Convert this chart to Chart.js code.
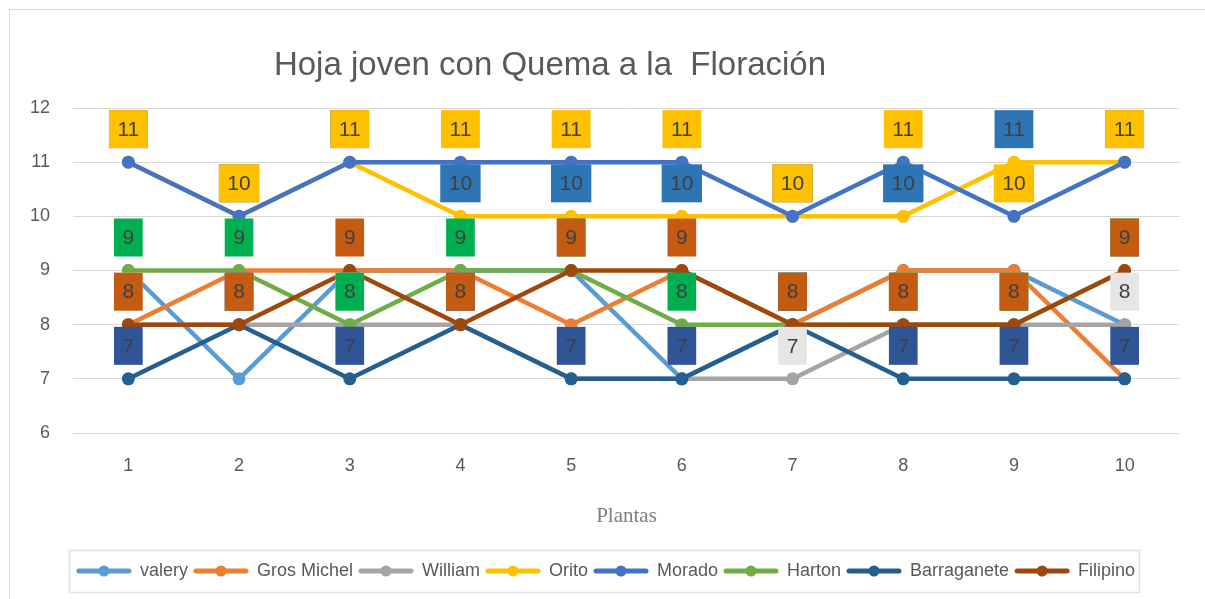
<!DOCTYPE html>
<html><head><meta charset="utf-8">
<script src="https://cdn.jsdelivr.net/npm/chart.js@4.4.1/dist/chart.umd.min.js"></script>
<style>
html,body{margin:0;padding:0;background:#fff;}
#wrap{position:relative;width:1205px;height:599px;overflow:hidden;background:#fff;}
#frame{position:absolute;left:9px;top:9px;width:1300px;height:700px;border:1px solid #D9D9D9;}
#title{position:absolute;left:0;width:1100px;top:45px;text-align:center;font:33px 'Liberation Sans',Arial,sans-serif;color:#595959;white-space:pre;}
canvas{position:absolute;left:0;top:0;}
</style></head><body>
<div id="wrap"><div id="frame"></div><canvas id="c" width="1205" height="599"></canvas><div id="title">Hoja joven con Quema a la  Floración</div></div>
<script>
// ---- data ----
const categories = ['1','2','3','4','5','6','7','8','9','10'];
const seriesNames = ['valery','Gros Michel','William','Orito','Morado','Harton','Barraganete','Filipino'];
const valery      = [9,7,9,9,9,7,8,9,9,8];
const grosMichel  = [8,9,9,9,8,9,8,9,9,7];
const william     = [8,8,8,8,7,7,7,8,8,8];
const orito       = [11,10,11,10,10,10,10,10,11,11];
const morado      = [11,10,11,11,11,11,10,11,10,11];
const harton      = [9,9,8,9,9,8,8,8,8,9];
const barraganete = [7,8,7,8,7,7,8,7,7,7];
const filipino    = [8,8,9,8,9,9,8,8,8,9];
const yMin = 6, yMax = 12, yStep = 1;
const xTitle = 'Plantas';

// ---- styles ----
const lineColors  = ['#5B9BD5','#ED7D31','#A5A5A5','#FFC000','#4472C4','#70AD47','#255E91','#9E480E'];
const labelFills  = [null,null,'#E7E6E6','#2E75B6','#FFC000','#00B050','#2F5597','#C55A11'];
const seriesData  = [valery,grosMichel,william,orito,morado,harton,barraganete,filipino];

function legendImg(color){
  const c=document.createElement('canvas'); c.width=56; c.height=14;
  const g=c.getContext('2d');
  g.strokeStyle=color; g.lineWidth=5; g.lineCap='round';
  g.beginPath(); g.moveTo(3,7); g.lineTo(53,7); g.stroke();
  g.fillStyle=color; g.beginPath(); g.arc(28,7,5.5,0,Math.PI*2); g.fill();
  return c;
}
const legendImgs = lineColors.map(legendImg);

const datasets = seriesNames.map((n,i)=>({
  label:n, data:seriesData[i], borderColor:lineColors[i], backgroundColor:lineColors[i],
  borderWidth:4.5, pointRadius:6.5, pointHoverRadius:6.5, pointBorderWidth:0,
  pointBackgroundColor:lineColors[i], tension:0, fill:false, order:seriesNames.length-1-i,
  labelFill:labelFills[i]
}));

const labelPlugin = {
  id:'boxLabels',
  afterDatasetsDraw(chart){
    const ctx=chart.ctx, xs=chart.scales.x, ys=chart.scales.y;
    ctx.save();
    ctx.font='21px "Liberation Sans", Arial, sans-serif';
    ctx.textAlign='center'; ctx.textBaseline='middle';
    chart.data.datasets.forEach(ds=>{
      if(!ds.labelFill) return;
      ds.data.forEach((v,j)=>{
        const x=xs.getPixelForValue(j), y=ys.getPixelForValue(v)-33;
        const t=String(v); const w=ctx.measureText(t).width+17, h=38;
        ctx.fillStyle=ds.labelFill; ctx.fillRect(x-w/2,y-h/2,w,h);
        ctx.fillStyle='#404040'; ctx.fillText(t,x,y+1);
      });
    });
    ctx.restore();
  }
};
const legendShift = 16;
const legendBox = {
  id:'legendBox',
  afterLayout(chart){
    const lg=chart.legend; if(!lg) return;
    lg.left+=legendShift; lg.right+=legendShift;
  },
  afterDraw(chart){
    const lg=chart.legend; if(!lg||!lg.legendHitBoxes.length) return;
    const hb=lg.legendHitBoxes;
    const l=Math.min(...hb.map(b=>b.left))-8, r=Math.max(...hb.map(b=>b.left+b.width))+4;
    const ctx=chart.ctx; ctx.save(); ctx.strokeStyle='#D6E2F0'; ctx.lineWidth=1.5;
    ctx.strokeRect(Math.round(l)+0.5, 550.5, Math.round(r-l), 42); ctx.restore();
  }
};

new Chart(document.getElementById('c'),{
  type:'line',
  data:{labels:categories, datasets},
  plugins:[labelPlugin, legendBox],
  options:{
    responsive:false, animation:false,
    layout:{padding:{top:108,right:25,bottom:9,left:0}},
    scales:{
      x:{
        offset:true,
        grid:{display:false, drawTicks:false, offset:true}, border:{display:false},
        ticks:{color:'#595959', font:{size:18,family:'"Liberation Sans", Arial, sans-serif'}, padding:22},
        title:{display:true, text:xTitle, color:'#7F7F7F', font:{size:21,family:'"Liberation Serif", "Times New Roman", serif'}, padding:{top:0,bottom:27}},
        afterFit(s){ s.height=123; }
      },
      y:{
        min:yMin, max:yMax,
        grid:{color:'#D9D9D9', lineWidth:1, drawTicks:false}, border:{display:false},
        ticks:{stepSize:yStep, color:'#595959', font:{size:18,family:'"Liberation Sans", Arial, sans-serif'}, padding:23},
        afterFit(s){ s.width=73; }
      }
    },
    plugins:{
      title:{display:false},
      tooltip:{enabled:false},
      legend:{
        position:'bottom',
        labels:{
          usePointStyle:true, pointStyleWidth:54, boxHeight:14, padding:6,
          color:'#595959', font:{size:18,family:'"Liberation Sans", Arial, sans-serif'},
          sort:(a,b)=>a.datasetIndex-b.datasetIndex,
          generateLabels(chart){
            const items=Chart.defaults.plugins.legend.labels.generateLabels(chart);
            items.forEach(it=>{ it.pointStyle=legendImgs[it.datasetIndex]; });
            return items;
          }
        }
      }
    }
  }
});
</script>
</body></html>
